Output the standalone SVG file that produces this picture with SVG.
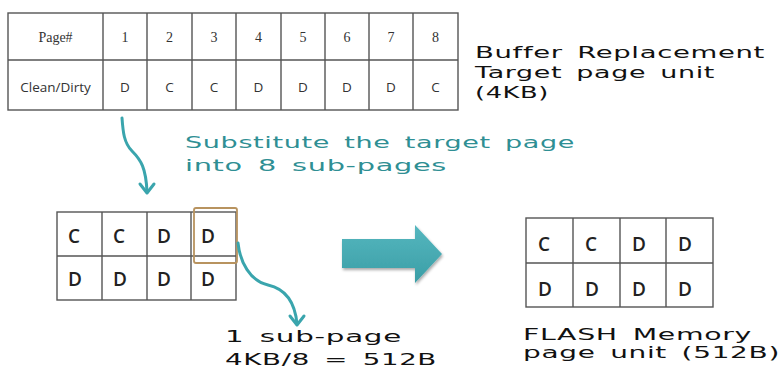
<svg xmlns="http://www.w3.org/2000/svg" width="783" height="368" viewBox="0 0 783 368">
<defs>
<style>
.grid{fill:#fff;stroke:#555;stroke-width:1.4}
.line{stroke:#555;stroke-width:1.4;fill:none}
.serif{font-family:"Liberation Serif","DejaVu Serif",serif;font-size:14px;fill:#333;text-anchor:middle}
.sans{font-family:"Open Sans","Liberation Sans",sans-serif;font-size:13.5px;fill:#333;text-anchor:middle}
.cell{font-family:"Open Sans","Noto Sans",sans-serif;font-size:19px;font-weight:600;fill:#222}
.wide{font-family:"DejaVu Sans","Liberation Sans",sans-serif;font-size:16.5px;fill:#111;letter-spacing:0.4px;word-spacing:3px}
.teal{font-family:"DejaVu Sans","Liberation Sans",sans-serif;font-size:16.5px;fill:#2f8f94;letter-spacing:0.4px;word-spacing:3px}
.conn{fill:none;stroke:#3aa5ad;stroke-width:3;stroke-linecap:round;stroke-linejoin:round}
</style>
<linearGradient id="ag" x1="0" y1="0" x2="0" y2="1">
<stop offset="0" stop-color="#56b7bf"/>
<stop offset="1" stop-color="#3a9ea6"/>
</linearGradient>
<filter id="sh" x="-20%" y="-20%" width="140%" height="150%">
<feGaussianBlur in="SourceAlpha" stdDeviation="1.5"/>
<feOffset dx="1" dy="2" result="b"/>
<feComponentTransfer><feFuncA type="linear" slope="0.35"/></feComponentTransfer>
<feMerge><feMergeNode/><feMergeNode in="SourceGraphic"/></feMerge>
</filter>
</defs>
<rect width="783" height="368" fill="#fff"/>

<g id="page-table">
<rect class="grid" x="8" y="13" width="450" height="97"/>
<path class="line" d="M8 60H458M103 13V110M147 13V110M192 13V110M236 13V110M281 13V110M325 13V110M369 13V110M413 13V110"/>
<text class="serif" x="55.5" y="42">Page#</text>
<text class="serif" x="125" y="42">1</text>
<text class="serif" x="169.5" y="42">2</text>
<text class="serif" x="214" y="42">3</text>
<text class="serif" x="258.5" y="42">4</text>
<text class="serif" x="303" y="42">5</text>
<text class="serif" x="347" y="42">6</text>
<text class="serif" x="391" y="42">7</text>
<text class="serif" x="435.5" y="42">8</text>
<text class="sans" x="55.5" y="92">Clean/Dirty</text>
<text class="sans" x="125" y="92">D</text>
<text class="sans" x="169.5" y="92">C</text>
<text class="sans" x="214" y="92">C</text>
<text class="sans" x="258.5" y="92">D</text>
<text class="sans" x="303" y="92">D</text>
<text class="sans" x="347" y="92">D</text>
<text class="sans" x="391" y="92">D</text>
<text class="sans" x="435.5" y="92">C</text>
</g>

<g id="buffer-label">
<text class="wide" x="475" y="58" textLength="290" lengthAdjust="spacingAndGlyphs">Buffer Replacement</text>
<text class="wide" x="475" y="78" textLength="240" lengthAdjust="spacingAndGlyphs">Target page unit</text>
<text class="wide" x="475" y="98" textLength="74" lengthAdjust="spacingAndGlyphs">(4KB)</text>
</g>

<g id="substitute-label">
<text class="teal" x="185" y="148" textLength="390" lengthAdjust="spacingAndGlyphs">Substitute the target page</text>
<text class="teal" x="185" y="171" textLength="262" lengthAdjust="spacingAndGlyphs">into 8 sub-pages</text>
</g>

<g id="sub-page-grid">
<rect class="grid" x="57" y="212" width="179" height="88"/>
<path class="line" d="M57 256H236M102 212V300M147 212V300M191 212V300"/>
<text class="cell" x="68" y="243">C</text>
<text class="cell" x="113" y="243">C</text>
<text class="cell" x="157" y="243">D</text>
<text class="cell" x="201" y="243">D</text>
<text class="cell" x="68" y="286">D</text>
<text class="cell" x="113" y="286">D</text>
<text class="cell" x="157" y="286">D</text>
<text class="cell" x="201" y="286">D</text>
<rect x="194" y="208" width="43" height="55" rx="2" fill="none" stroke="#b8935f" stroke-width="1.8"/>
</g>

<g id="sub-page-label">
<text class="wide" x="225" y="342" textLength="177" lengthAdjust="spacingAndGlyphs">1 sub-page</text>
<text class="wide" x="225" y="365" textLength="212" lengthAdjust="spacingAndGlyphs">4KB/8 = 512B</text>
</g>

<g id="big-arrow">
<path d="M342 239H415V225L442 254L415 283V268H342Z" fill="url(#ag)" filter="url(#sh)"/>
</g>

<g id="flash-grid">
<rect class="grid" x="526" y="218" width="187" height="89"/>
<path class="line" d="M526 263H713M573 218V307M620 218V307M666 218V307"/>
<text class="cell" x="538" y="251">C</text>
<text class="cell" x="585" y="251">C</text>
<text class="cell" x="632" y="251">D</text>
<text class="cell" x="678" y="251">D</text>
<text class="cell" x="538" y="296">D</text>
<text class="cell" x="585" y="296">D</text>
<text class="cell" x="632" y="296">D</text>
<text class="cell" x="678" y="296">D</text>
</g>

<g id="flash-label">
<text class="wide" x="523" y="340" textLength="229" lengthAdjust="spacingAndGlyphs">FLASH Memory</text>
<text class="wide" x="523" y="358" textLength="257" lengthAdjust="spacingAndGlyphs">page unit (512B)</text>
</g>

<g id="connectors">
<path class="conn" d="M122 118C123 132 124 143 132 151C141 160 146 168 147 192"/>
<path class="conn" d="M140 184L147 193L154 184"/>
<path class="conn" d="M238 243C240 262 250 281 268 285C286 289 295 302 297 324"/>
<path class="conn" d="M290 316L297 325L304 316"/>
</g>
</svg>
